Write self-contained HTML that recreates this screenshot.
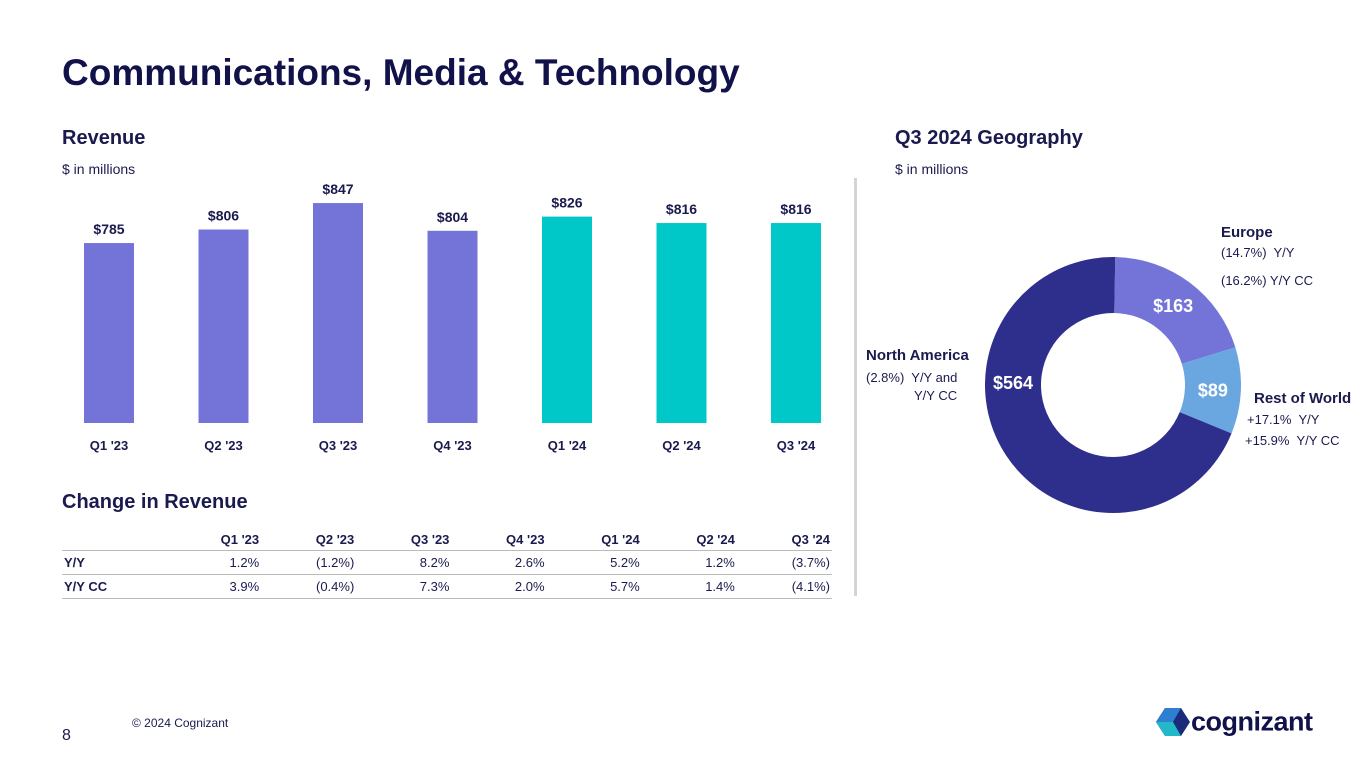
<!DOCTYPE html>
<html><head><meta charset="utf-8"><style>
body{margin:0;width:1365px;height:768px;background:#fff;font-family:"Liberation Sans",sans-serif;color:#1a1a4e;position:relative;overflow:hidden}
.a{position:absolute;white-space:nowrap}
table{border-collapse:collapse}
</style></head><body>
<div class="a" style="left:62px;top:52px;font-size:37px;font-weight:bold;color:#12124a">Communications, Media &amp; Technology</div>
<div class="a" style="left:62px;top:127px;font-size:20px;font-weight:bold">Revenue</div>
<div class="a" style="left:62px;top:161px;font-size:14px">$ in millions</div>
<div class="a" style="left:895px;top:127px;font-size:20px;font-weight:bold">Q3 2024 Geography</div>
<div class="a" style="left:895px;top:161px;font-size:14px">$ in millions</div>
<div class="a" style="left:854px;top:178px;width:3px;height:418px;background:#d4d4d4"></div>
<svg class="a" id="bars" style="left:0;top:0" width="860" height="470"></svg>
<div class="a" style="left:62px;top:491px;font-size:20px;font-weight:bold">Change in Revenue</div>
<table class="a" style="left:62px;top:530px;width:770px;font-size:13px">
<tr style="height:20px;border-bottom:1px solid #bbb;font-weight:bold"><td style="width:100px"></td><td>Q1 '23</td><td>Q2 '23</td><td>Q3 '23</td><td>Q4 '23</td><td>Q1 '24</td><td>Q2 '24</td><td>Q3 '24</td></tr>
<tr style="height:24px;border-bottom:1px solid #bbb"><td style="font-weight:bold;text-align:left">Y/Y</td><td>1.2%</td><td>(1.2%)</td><td>8.2%</td><td>2.6%</td><td>5.2%</td><td>1.2%</td><td>(3.7%)</td></tr>
<tr style="height:24px;border-bottom:1px solid #bbb"><td style="font-weight:bold;text-align:left">Y/Y CC</td><td>3.9%</td><td>(0.4%)</td><td>7.3%</td><td>2.0%</td><td>5.7%</td><td>1.4%</td><td>(4.1%)</td></tr>
</table>
<style>table td{text-align:right;padding:0 2px}</style>
<svg class="a" id="donut" style="left:860px;top:200px" width="505" height="330"></svg>
<div class="a" style="left:1221px;top:224px;font-size:15px;font-weight:bold">Europe</div>
<div class="a" style="left:1221px;top:245px;font-size:13px">(14.7%)&nbsp; Y/Y</div>
<div class="a" style="left:1221px;top:273px;font-size:13px">(16.2%) Y/Y CC</div>
<div class="a" style="left:866px;top:347px;font-size:15px;font-weight:bold">North America</div>
<div class="a" style="left:866px;top:369px;font-size:13px;line-height:18px">(2.8%)&nbsp; Y/Y and<br><span style="padding-left:48px">Y/Y CC</span></div>
<div class="a" style="left:1254px;top:390px;font-size:15px;font-weight:bold">Rest of World</div>
<div class="a" style="left:1247px;top:412px;font-size:13px">+17.1%&nbsp; Y/Y</div>
<div class="a" style="left:1245px;top:433px;font-size:13px">+15.9%&nbsp; Y/Y CC</div>
<div class="a" style="left:62px;top:727px;font-size:16px">8</div>
<div class="a" style="left:132px;top:716px;font-size:12px">© 2024 Cognizant</div>
<div class="a" style="left:1155px;top:706px">
<svg width="36" height="32" style="vertical-align:middle"><polygon points="10,2 26,2 35,16 26,30 10,30 1,16" fill="#1c2a7a"/><polygon points="1,16 10,2 26,2 18,16" fill="#2f7fd0"/><polygon points="18,16 26,30 10,30 1,16" fill="#22b8c8"/></svg><span style="font-size:27px;font-weight:bold;color:#12124a;vertical-align:middle;letter-spacing:-0.5px">cognizant</span></div>
<script>
const quarters=["Q1 '23","Q2 '23","Q3 '23","Q4 '23","Q1 '24","Q2 '24","Q3 '24"];
const revenue=[785,806,847,804,826,816,816];
const geoNames=["Europe","Rest of World","North America"];
const geoValues=[163,89,564];
const NS="http://www.w3.org/2000/svg";
function mk(p,t,a){const e=document.createElementNS(NS,t);for(const k in a)e.setAttribute(k,a[k]);p.appendChild(e);return e;}
const bs=document.getElementById('bars');
const base=423,vmin=506,k=0.645;
const x=i=>109+i*114.5, y=v=>base-(v-vmin)*k;
revenue.forEach((v,i)=>{
 const r=mk(bs,'rect',{x:x(i)-25,y:y(v),width:50,height:base-y(v),fill:i<4?'#7474d8':'#00c8c8'});
 
 
 const t=mk(bs,'text',{x:x(i),y:y(v)-9,'text-anchor':'middle','font-size':14,'font-weight':'bold',fill:'#1a1a4e'});t.textContent='$'+v;
 
 
 const q=mk(bs,'text',{x:x(i),y:450,'text-anchor':'middle','font-size':13,'font-weight':'bold',fill:'#1a1a4e'});q.textContent=quarters[i];
 
 
});
const ds=document.getElementById('donut');
const cx=253,cy=185,R=128,r0=72,cols=['#7474d8','#6aa6e0','#2e2e8c'];
const tot=geoValues.reduce((a,b)=>a+b,0);let ang=1*Math.PI/180;
const pt=(a,rr)=>[cx+rr*Math.sin(a),cy-rr*Math.cos(a)];
geoValues.forEach((v,i)=>{
 const a1=ang+v/tot*2*Math.PI,lg=(a1-ang)>Math.PI?1:0;
 const [x1,y1]=pt(ang,R),[x2,y2]=pt(a1,R),[x3,y3]=pt(a1,r0),[x4,y4]=pt(ang,r0);
 const p=mk(ds,'path',{d:`M${x1},${y1}A${R},${R} 0 ${lg} 1 ${x2},${y2}L${x3},${y3}A${r0},${r0} 0 ${lg} 0 ${x4},${y4}Z`,fill:cols[i]});
 
 
 let m=(ang+a1)/2; if(i==2) m=1.5*Math.PI+0.03;
 const [lx,ly]=pt(m,(R+r0)/2);
 const t=mk(ds,'text',{x:lx,y:ly+7,'text-anchor':'middle','font-size':18,'font-weight':'bold',fill:'#fff'});t.textContent='$'+v;
 
 
 ang=a1;
});
</script>
</body></html>
